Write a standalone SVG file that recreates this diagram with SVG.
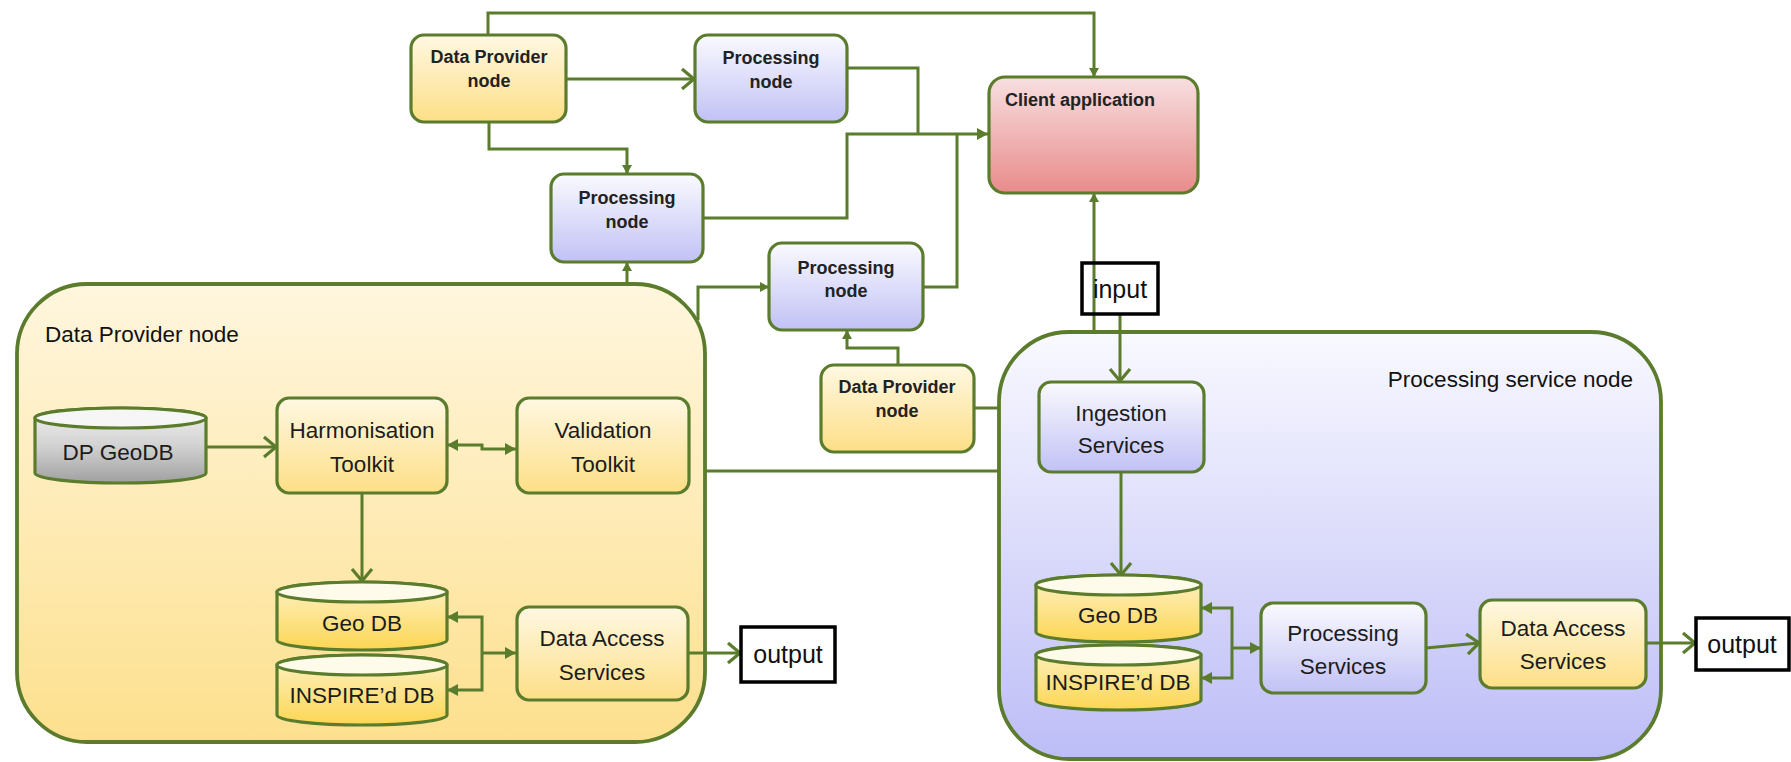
<svg xmlns="http://www.w3.org/2000/svg" width="1791" height="762" viewBox="0 0 1791 762">
<defs>
<linearGradient id="gY" x1="0" y1="0" x2="0" y2="1"><stop offset="0" stop-color="#fff8e2"/><stop offset="1" stop-color="#fddf86"/></linearGradient>
<linearGradient id="gCyl" x1="0" y1="0" x2="0" y2="1"><stop offset="0" stop-color="#fff2c8"/><stop offset="1" stop-color="#fcd652"/></linearGradient>
<linearGradient id="gP" x1="0" y1="0" x2="0" y2="1"><stop offset="0" stop-color="#fafaff"/><stop offset="1" stop-color="#c1c1f6"/></linearGradient>
<linearGradient id="gC" x1="0" y1="0" x2="0" y2="1"><stop offset="0" stop-color="#f8dfe0"/><stop offset="1" stop-color="#e98b8b"/></linearGradient>
<linearGradient id="gBigY" x1="0" y1="0" x2="0" y2="1"><stop offset="0" stop-color="#fff6de"/><stop offset="1" stop-color="#fde08e"/></linearGradient>
<linearGradient id="gBigP" x1="0" y1="0" x2="0" y2="1"><stop offset="0" stop-color="#f9f9ff"/><stop offset="1" stop-color="#bdbdf7"/></linearGradient>
<linearGradient id="gGray" x1="0" y1="0" x2="0" y2="1"><stop offset="0" stop-color="#f2f2f2"/><stop offset="0.5" stop-color="#d2d2d2"/><stop offset="1" stop-color="#a0a0a0"/></linearGradient>
<marker id="chev" markerUnits="userSpaceOnUse" markerWidth="16" markerHeight="22" refX="14" refY="11" orient="auto" overflow="visible">
<path d="M2,1 L14,11 L2,21" fill="none" stroke="#5a7c2c" stroke-width="3.2"/>
</marker>
<marker id="tri" markerUnits="userSpaceOnUse" markerWidth="12" markerHeight="12" refX="11" refY="6" orient="auto" overflow="visible">
<path d="M0,0 L11,6 L0,12 Z" fill="#5a7c2c"/>
</marker>
<marker id="triS" markerUnits="userSpaceOnUse" markerWidth="10" markerHeight="10" refX="9" refY="5" orient="auto" overflow="visible">
<path d="M0,0 L9,5 L0,10 Z" fill="#5a7c2c"/>
</marker>
<marker id="triStart" markerUnits="userSpaceOnUse" markerWidth="12" markerHeight="12" refX="0" refY="6" orient="auto" overflow="visible">
<path d="M11,0 L0,6 L11,12 Z" fill="#5a7c2c"/>
</marker>
</defs>
<style>
.big{stroke:#5a7c2c;stroke-width:3.8}
.box{stroke:#5a7c2c;stroke-width:3.2}
.ln{fill:none;stroke:#5a7c2c;stroke-width:3}
.t{font-family:"Liberation Sans",Arial,sans-serif;font-size:22.5px;fill:#1c1c1c;text-anchor:middle}
.s{font-family:"Liberation Sans",Arial,sans-serif;font-size:18px;font-weight:bold;fill:#222;text-anchor:middle}
.sl{font-family:"Liberation Sans",Arial,sans-serif;font-size:18px;font-weight:bold;fill:#222}
.h{font-family:"Liberation Sans",Arial,sans-serif;font-size:22.5px;fill:#111}
.io{fill:#ffffff;stroke:#000;stroke-width:3.5}
.ion{fill:none;stroke:#000;stroke-width:3.5}
.iot{font-family:"Liberation Sans",Arial,sans-serif;font-size:25px;fill:#111;text-anchor:middle}
</style>
<rect width="1791" height="762" fill="#ffffff"/>

<g id="dp-node-big">
<rect class="big" x="17" y="284" width="688" height="458" rx="70" fill="url(#gBigY)"/>
<text class="h" x="45" y="342">Data Provider node</text>
</g>
<g id="ps-node-big">
<rect class="big" x="999" y="332" width="662" height="427" rx="70" fill="url(#gBigP)"/>
<text class="h" x="1633" y="387" text-anchor="end">Processing service node</text>
</g>

<g id="connectors">
<path class="ln" d="M488,35 V13 H1094 V77" marker-end="url(#triS)"/>
<path class="ln" d="M566,79 H694" marker-end="url(#chev)"/>
<path class="ln" d="M489,122 V149 H627 V174" marker-end="url(#triS)"/>
<path class="ln" d="M847,68 H918 V134"/>
<path class="ln" d="M703,218 H847 V134 H988" marker-end="url(#tri)"/>
<path class="ln" d="M627,285 V262" marker-end="url(#triS)"/>
<path class="ln" d="M698,320 V287 H769" marker-end="url(#triS)"/>
<path class="ln" d="M923,287 H957 V134"/>
<path class="ln" d="M898,365 V348 H847 V330" marker-end="url(#triS)"/>
<path class="ln" d="M974,408 H999"/>
<path class="ln" d="M705,471 H999"/>
<path class="ln" d="M1094,332 V193" marker-end="url(#triS)"/>
<path class="ln" d="M1120,314 V381" marker-end="url(#chev)"/>
<path class="ln" d="M206,447 H276" marker-end="url(#chev)"/>
<path class="ln" d="M447,445 H482 V449 H516" marker-start="url(#triStart)" marker-end="url(#tri)"/>
<path class="ln" d="M362,493 V581" marker-end="url(#chev)"/>
<path class="ln" d="M447,617 H482 V690 H447" marker-start="url(#triStart)" marker-end="url(#tri)"/>
<path class="ln" d="M482,653 H516" marker-end="url(#tri)"/>
<path class="ln" d="M688,653 H740" marker-end="url(#chev)"/>
<path class="ln" d="M1121,472 V575" marker-end="url(#chev)"/>
<path class="ln" d="M1201,608 H1232 V678 H1201" marker-start="url(#triStart)" marker-end="url(#tri)"/>
<path class="ln" d="M1232,648 H1261" marker-end="url(#tri)"/>
<path class="ln" d="M1426,648 L1479,643" marker-end="url(#chev)"/>
<path class="ln" d="M1646,643 H1695" marker-end="url(#chev)"/>
</g>

<g id="dp-top">
<rect class="box" x="411" y="35" width="155" height="87" rx="13" fill="url(#gY)"/>
<text class="s" x="489" y="63">Data Provider</text>
<text class="s" x="489" y="87">node</text>
</g>
<g id="proc-top">
<rect class="box" x="695" y="35" width="152" height="87" rx="13" fill="url(#gP)"/>
<text class="s" x="771" y="64">Processing</text>
<text class="s" x="771" y="88">node</text>
</g>
<g id="proc-2">
<rect class="box" x="551" y="174" width="152" height="88" rx="13" fill="url(#gP)"/>
<text class="s" x="627" y="204">Processing</text>
<text class="s" x="627" y="228">node</text>
</g>
<g id="proc-3">
<rect class="box" x="769" y="243" width="154" height="87" rx="13" fill="url(#gP)"/>
<text class="s" x="846" y="274">Processing</text>
<text class="s" x="846" y="297">node</text>
</g>
<g id="dp-3">
<rect class="box" x="821" y="365" width="153" height="87" rx="13" fill="url(#gY)"/>
<text class="s" x="897" y="393">Data Provider</text>
<text class="s" x="897" y="417">node</text>
</g>
<g id="client">
<rect class="box" x="989" y="77" width="209" height="116" rx="16" fill="url(#gC)"/>
<text class="sl" x="1005" y="106">Client application</text>
</g>
<g id="input">
<rect class="ion" x="1082" y="263" width="76" height="51"/>
<text class="iot" x="1120" y="298">input</text>
</g>

<g id="dp-geodb">
<path class="box" d="M35,418 A85.5,10 0 0 1 206,418 V473 A85.5,10 0 0 1 35,473 Z" fill="url(#gGray)"/>
<ellipse class="box" cx="120.5" cy="418" rx="85.5" ry="10" fill="#f6f6f6"/>
<text class="t" x="118" y="460">DP GeoDB</text>
</g>
<g id="harmonisation">
<rect class="box" x="277" y="398" width="170" height="95" rx="12" fill="url(#gY)"/>
<text class="t" x="362" y="438">Harmonisation</text>
<text class="t" x="362" y="472">Toolkit</text>
</g>
<g id="validation">
<rect class="box" x="517" y="398" width="172" height="95" rx="12" fill="url(#gY)"/>
<text class="t" x="603" y="438">Validation</text>
<text class="t" x="603" y="472">Toolkit</text>
</g>
<g id="dp-geo-db">
<path class="box" d="M277,592 A85,10 0 0 1 447,592 V640 A85,10 0 0 1 277,640 Z" fill="url(#gCyl)"/>
<ellipse class="box" cx="362" cy="592" rx="85" ry="10" fill="#fffbea"/>
<text class="t" x="362" y="631">Geo DB</text>
</g>
<g id="dp-inspire-db">
<path class="box" d="M277,665 A85,10 0 0 1 447,665 V715 A85,10 0 0 1 277,715 Z" fill="url(#gCyl)"/>
<ellipse class="box" cx="362" cy="665" rx="85" ry="10" fill="#fffbea"/>
<text class="t" x="362" y="703">INSPIRE’d DB</text>
</g>
<g id="dp-data-access">
<rect class="box" x="517" y="607" width="171" height="93" rx="12" fill="url(#gY)"/>
<text class="t" x="602" y="646">Data Access</text>
<text class="t" x="602" y="680">Services</text>
</g>
<g id="dp-output">
<rect class="io" x="741" y="627" width="94" height="55"/>
<text class="iot" x="788" y="663">output</text>
</g>

<g id="ingestion">
<rect class="box" x="1039" y="382" width="165" height="90" rx="12" fill="url(#gP)"/>
<text class="t" x="1121" y="421">Ingestion</text>
<text class="t" x="1121" y="453">Services</text>
</g>
<g id="ps-geo-db">
<path class="box" d="M1036,585 A82.5,10 0 0 1 1201,585 V632 A82.5,10 0 0 1 1036,632 Z" fill="url(#gCyl)"/>
<ellipse class="box" cx="1118.5" cy="585" rx="82.5" ry="10" fill="#fffbea"/>
<text class="t" x="1118" y="623">Geo DB</text>
</g>
<g id="ps-inspire-db">
<path class="box" d="M1036,655 A82.5,10 0 0 1 1201,655 V700 A82.5,10 0 0 1 1036,700 Z" fill="url(#gCyl)"/>
<ellipse class="box" cx="1118.5" cy="655" rx="82.5" ry="10" fill="#fffbea"/>
<text class="t" x="1118" y="690">INSPIRE’d DB</text>
</g>
<g id="processing-services">
<rect class="box" x="1261" y="603" width="165" height="90" rx="12" fill="url(#gP)"/>
<text class="t" x="1343" y="641">Processing</text>
<text class="t" x="1343" y="674">Services</text>
</g>
<g id="ps-data-access">
<rect class="box" x="1480" y="600" width="166" height="88" rx="12" fill="url(#gY)"/>
<text class="t" x="1563" y="636">Data Access</text>
<text class="t" x="1563" y="669">Services</text>
</g>
<g id="ps-output">
<rect class="io" x="1696" y="618" width="93" height="52"/>
<text class="iot" x="1742" y="653">output</text>
</g>
</svg>
